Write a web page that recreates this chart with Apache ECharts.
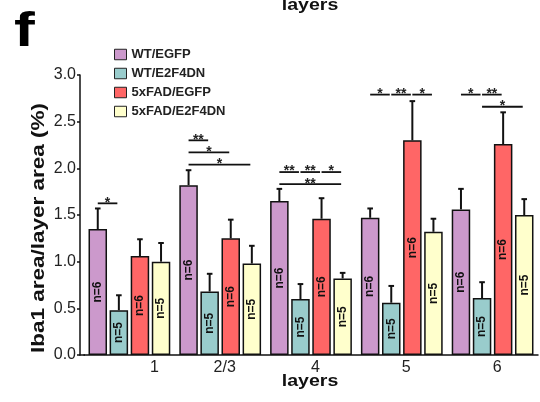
<!DOCTYPE html>
<html>
<head>
<meta charset="utf-8">
<script src="https://cdn.jsdelivr.net/npm/echarts@6/dist/echarts.min.js"></script>
<style>html,body{margin:0;padding:0;background:#fff;}#c{width:540px;height:402px;}</style>
</head>
<body>
<div id="c"></div>
<script>
// ---- data ----
const CATEGORIES = ['1', '2/3', '4', '5', '6'];
const SERIES_NAMES = ['WT/EGFP', 'WT/E2F4DN', '5xFAD/EGFP', '5xFAD/E2F4DN'];
const WT_EGFP = [1.35, 1.82, 1.65, 1.47, 1.56];
const WT_E2F4DN = [0.48, 0.68, 0.60, 0.56, 0.61];
const FAD_EGFP = [1.06, 1.25, 1.46, 2.30, 2.26];
const FAD_E2F4DN = [1.00, 0.98, 0.82, 1.32, 1.50];
const WT_EGFP_SEM = [0.22, 0.16, 0.13, 0.10, 0.22];
const WT_E2F4DN_SEM = [0.16, 0.19, 0.16, 0.18, 0.17];
const FAD_EGFP_SEM = [0.18, 0.20, 0.22, 0.42, 0.34];
const FAD_E2F4DN_SEM = [0.20, 0.19, 0.06, 0.14, 0.17];
const WT_EGFP_N = [6, 6, 6, 6, 6];
const WT_E2F4DN_N = [5, 5, 5, 5, 5];
const FAD_EGFP_N = [6, 6, 6, 6, 6];
const FAD_E2F4DN_N = [5, 5, 5, 5, 5];
const Y_TICKS = [0, 0.5, 1.0, 1.5, 2.0, 2.5, 3.0];
// significance brackets
const SIG_CAT  = [0, 1, 1, 1, 2, 2, 2, 2, 3, 3, 3, 4, 4, 4];
const SIG_FROM = [0, 0, 0, 0, 0, 1, 2, 0, 0, 1, 2, 0, 1, 1];
const SIG_TO   = [1, 1, 2, 3, 1, 2, 3, 3, 1, 2, 3, 1, 2, 3];
const SIG_Y    = [1.625, 2.30, 2.17, 2.04, 1.96, 1.96, 1.96, 1.83, 2.79, 2.79, 2.79, 2.79, 2.79, 2.66];
const SIG_TEXT = ['*', '**', '*', '*', '**', '**', '*', '**', '*', '**', '*', '*', '**', '*'];

// ---- style ----
const COLORS = ['#CC99CC', '#99CCCC', '#FF6666', '#FFFFCC'];
const BAR_W = 18.5;
const GAP = 0.14;
const STEP = BAR_W * (1 + GAP);

const MEANS = [WT_EGFP, WT_E2F4DN, FAD_EGFP, FAD_E2F4DN];
const SEMS = [WT_EGFP_SEM, WT_E2F4DN_SEM, FAD_EGFP_SEM, FAD_E2F4DN_SEM];
const NS = [WT_EGFP_N, WT_E2F4DN_N, FAD_EGFP_N, FAD_E2F4DN_N];

const chart = echarts.init(document.getElementById('c'), null, {renderer: 'canvas'});

const barSeries = SERIES_NAMES.map((name, s) => ({
  name: name,
  type: 'bar',
  data: MEANS[s],
  barWidth: BAR_W,
  barGap: (GAP * 100) + '%',
  itemStyle: {color: COLORS[s], borderColor: '#111', borderWidth: 1.5},
  label: {
    show: true, position: 'inside', rotate: 90,
    fontSize: 12, fontWeight: 'bold', color: '#111', fontFamily: 'Liberation Sans, Arial',
    formatter: p => 'n=' + NS[s][p.dataIndex]
  },
  z: 2
}));

const errData = [];
for (let s = 0; s < 4; s++) {
  for (let c = 0; c < CATEGORIES.length; c++) {
    errData.push([c, s, MEANS[s][c], MEANS[s][c] + SEMS[s][c]]);
  }
}

const errSeries = {
  type: 'custom',
  data: errData,
  encode: {x: 0, y: 3},
  clip: false,
  z: 1,
  silent: true,
  renderItem: (params, api) => {
    const c = api.value(0), s = api.value(1);
    const p0 = api.coord([c, api.value(2)]);
    const p1 = api.coord([c, api.value(3)]);
    const x = p0[0] + (s - 1.5) * STEP;
    const st = {stroke: '#111', lineWidth: 2};
    return {type: 'group', children: [
      {type: 'line', shape: {x1: x, y1: p0[1], x2: x, y2: p1[1]}, style: st},
      {type: 'line', shape: {x1: x - 2.8, y1: p1[1], x2: x + 2.8, y2: p1[1]}, style: st}
    ]};
  }
};

const sigData = SIG_CAT.map((c, i) => [c, SIG_FROM[i], SIG_TO[i], SIG_Y[i]]);
const sigSeries = {
  type: 'custom',
  data: sigData,
  encode: {x: 0, y: 3},
  clip: false,
  z: 3,
  silent: true,
  renderItem: (params, api) => {
    const c = api.value(0);
    const p = api.coord([c, api.value(3)]);
    const xa = p[0] + (api.value(1) - 1.5) * STEP;
    const xb = p[0] + (api.value(2) - 1.5) * STEP - 1.5;
    return {type: 'group', children: [
      {type: 'line', shape: {x1: xa, y1: p[1], x2: xb, y2: p[1]}, style: {stroke: '#111', lineWidth: 1.8}},
      {type: 'text', style: {
        text: SIG_TEXT[params.dataIndex], x: (xa + xb) / 2, y: p[1] - 0.5,
        align: 'center', verticalAlign: 'middle', textAlign: 'center', textVerticalAlign: 'middle',
        font: 'bold 14px "Liberation Sans", Arial', fill: '#222'
      }}
    ]};
  }
};

const option = {
  animation: false,
  backgroundColor: '#fff',
  grid: {left: 84, right: 2, top: 75, bottom: 47, containLabel: false},
  legend: {
    data: SERIES_NAMES,
    orient: 'vertical',
    left: 109, top: 43,
    itemWidth: 12, itemHeight: 10.5, itemGap: 6,
    icon: 'rect',
    itemStyle: {borderColor: '#222', borderWidth: 1},
    textStyle: {fontSize: 13, fontWeight: 'bold', color: '#222', fontFamily: 'Liberation Sans, Arial'},
    selectedMode: false
  },
  xAxis: {
    type: 'category',
    data: CATEGORIES,
    axisLine: {lineStyle: {color: '#111', width: 1.5}},
    axisTick: {show: false},
    axisLabel: {
      margin: 5, fontSize: 16, color: '#222', fontFamily: 'Liberation Sans, Arial',
      formatter: (v, i) => i === 0 ? '{f|' + v + '}' : '{o|' + v + '}',
      rich: {
        f: {fontSize: 16, color: '#222', padding: [0, 0, 0, 50], fontFamily: 'Liberation Sans, Arial'},
        o: {fontSize: 16, color: '#222', padding: [0, 0, 0, 9], fontFamily: 'Liberation Sans, Arial'}
      }
    }
  },
  yAxis: {
    type: 'value',
    min: Y_TICKS[0], max: Y_TICKS[Y_TICKS.length - 1], interval: 0.5,
    offset: 4,
    axisLine: {show: true, lineStyle: {color: '#111', width: 1.5}},
    axisTick: {show: true, length: 3, lineStyle: {color: '#111', width: 1.5}},
    splitLine: {show: false},
    axisLabel: {margin: 4, fontSize: 16, color: '#222', fontFamily: 'Liberation Sans, Arial',
      formatter: v => v.toFixed(1)}
  },
  graphic: [
    {type: 'line', shape: {x1: 79.5, y1: 355, x2: 85, y2: 355}, style: {stroke: '#111', lineWidth: 1.5}},
    {type: 'text', x: 39, y: 228, rotation: Math.PI / 2, scaleX: 1.25,
      style: {text: 'Iba1 area/layer area (%)', x: 0, y: 0, align: 'center', verticalAlign: 'middle',
        textAlign: 'center', textVerticalAlign: 'middle',
        font: 'bold 18px "Liberation Sans", Arial', fill: '#111'}},
    {type: 'text', x: 310, y: 381, scaleX: 1.15,
      style: {text: 'layers', x: 0, y: 0, align: 'center', verticalAlign: 'middle',
        textAlign: 'center', textVerticalAlign: 'middle',
        font: 'bold 17px "Liberation Sans", Arial', fill: '#111'}},
    {type: 'text', x: 310, y: 5, scaleX: 1.15,
      style: {text: 'layers', x: 0, y: 0, align: 'center', verticalAlign: 'middle',
        textAlign: 'center', textVerticalAlign: 'middle',
        font: 'bold 17px "Liberation Sans", Arial', fill: '#111'}},
    {type: 'text', x: 24.5, y: 33, scaleX: 1.3,
      style: {text: 'f', x: 0, y: 0, align: 'center', verticalAlign: 'middle',
        textAlign: 'center', textVerticalAlign: 'middle',
        font: 'bold 48px "Liberation Sans", Arial', fill: '#000'}}
  ],
  series: [...barSeries, errSeries, sigSeries]
};
chart.setOption(option);
</script>
</body>
</html>
